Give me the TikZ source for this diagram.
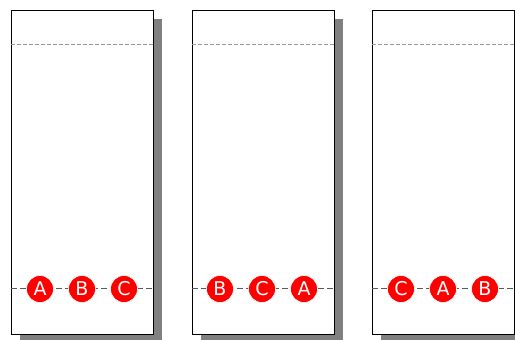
\documentclass[tikz,border=0pt]{standalone}
\usepackage{fontspec}
\setmainfont{DejaVu Sans}
\begin{document}
\begin{tikzpicture}[x=1pt,y=-1pt,
  panel/.style={draw=black,line width=1pt,fill=white,minimum width=142pt,minimum height=324pt,inner sep=0pt,outer sep=0pt,anchor=north west},
  shadowbox/.style={fill=black!50,draw=none,minimum width=142pt,minimum height=324pt,inner sep=0pt,anchor=north west},
  topline/.style={draw=black!40,line width=1pt,dash pattern=on 4pt off 2pt},
  botline/.style={draw=black!65,line width=0.8pt,dash pattern=on 6pt off 3pt},
  token/.style={circle,fill=red,draw=white,line width=0.6pt,minimum size=27pt,inner sep=0pt,text=white,font=\fontsize{19}{19}\selectfont}]
\useasboundingbox (0,0) rectangle (515,340);
\clip (0,0) rectangle (515,340);
\foreach \i/\x in {1/11,2/192,3/372}{
  \node[shadowbox] (s\i) at (\x+9,19) {};
  \node[panel] (p\i) at (\x,10) {};
  \coordinate (tl\i) at (\x,44);
  \coordinate (tr\i) at (\x+142,44);
  \coordinate (bl\i) at (\x,288);
  \coordinate (br\i) at (\x+142,288);
  \draw[topline] (tl\i) -- (tr\i);
  \draw[botline] (bl\i) -- (br\i);
}
\node[token] (a1) at (40,289) {A};
\node[token] (b1) at (82,289) {B};
\node[token] (c1) at (124,289) {C};
\node[token] (b2) at (220,289) {B};
\node[token] (c2) at (262,289) {C};
\node[token] (a2) at (304,289) {A};
\node[token] (c3) at (401,289) {C};
\node[token] (a3) at (443,289) {A};
\node[token] (b3) at (485,289) {B};
\end{tikzpicture}
\end{document}
